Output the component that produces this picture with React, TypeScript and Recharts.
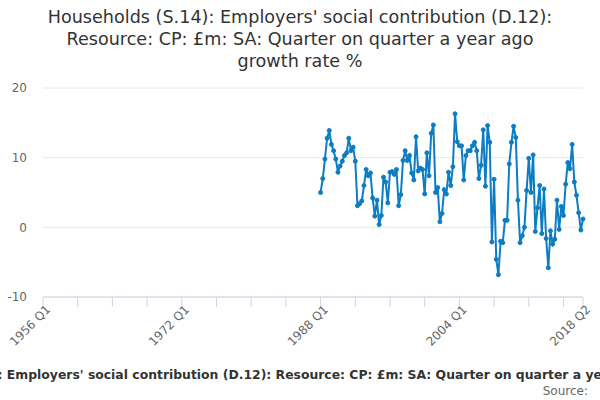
import React from 'react';
import { LineChart, Line, XAxis, YAxis, CartesianGrid } from 'recharts';

const quarters: string[] = [];
for (let y = 1956; y <= 2018; y++) {
  for (let q = 1; q <= 4; q++) {
    if (y === 2018 && q > 2) break;
    quarters.push(`${y} Q${q}`);
  }
}

const firstDataQuarter = '1988 Q1';

const growthValues: number[] = [
  5.0, 7.0, 9.8, 12.8, 13.9, 11.9, 11.0, 9.8, 7.9, 8.8,
  9.5, 10.3, 10.7, 12.8, 11.0, 11.5, 9.5, 3.1, 3.4, 3.8,
  6.0, 8.3, 7.4, 7.8, 4.2, 1.6, 3.9, 0.4, 1.7, 7.2,
  6.5, 3.5, 7.9, 8.0, 7.6, 8.3, 3.1, 4.7, 9.6, 11.0,
  9.6, 10.3, 7.8, 6.8, 13.0, 8.1, 8.5, 8.3, 4.8, 10.7,
  7.4, 13.5, 14.7, 5.0, 5.7, 0.8, 2.0, 5.4, 4.8, 7.9,
  6.0, 8.7, 16.3, 12.3, 11.7, 11.7, 6.8, 10.3, 11.0, 11.0,
  11.7, 12.2, 11.0, 7.0, 8.9, 14.0, 5.9, 14.6, 12.2, -2.1,
  6.9, -4.6, -6.8, -2.0, -2.2, 1.0, 1.0, 9.1, 12.2, 14.5,
  12.9, 3.9, -2.2, -1.2, 0.0, 5.3, 9.9, 5.0, 10.4, -0.6,
  2.8, 6.0, -0.9, 5.5, -1.6, -5.8, -0.5, -2.4, -1.7, 3.9,
  -0.3, 3.0, 1.7, 6.2, 9.3, 8.4, 11.9, 6.5, 4.6, 2.1,
  -0.4, 1.2,
];

const yTicks = [-10, 0, 10, 20];
const tickLabels = ['1956 Q1', '1972 Q1', '1988 Q1', '2004 Q1', '2018 Q2'];
const tickMarks = quarters.filter((q, i) => i % 16 === 0 || i === quarters.length - 1);

const titleLines = [
  "Households (S.14): Employers' social contribution (D.12):",
  'Resource: CP: £m: SA: Quarter on quarter a year ago',
  'growth rate %',
];
const legendText =
  "Households (S.14): Employers' social contribution (D.12): Resource: CP: £m: SA: Quarter on quarter a year ago growth rate %";

const startIdx = quarters.indexOf(firstDataQuarter);
const data = quarters.map((q, i) => ({
  q,
  v: i >= startIdx && i - startIdx < growthValues.length ? growthValues[i - startIdx] : null,
}));

const FONT = '"DejaVu Sans", sans-serif';
const LINE = '#0c7dc4';

const XTick = (props: any) => {
  const { x, y, payload } = props;
  if (!tickLabels.includes(payload.value)) return <g />;
  const ax = x + 2;
  const ay = y - 5;
  return (
    <text
      x={ax}
      y={ay}
      transform={`rotate(-45 ${ax} ${ay})`}
      textAnchor="end"
      fontSize={12}
      fill="#666"
      fontFamily={FONT}
      dominantBaseline="hanging"
    >
      {payload.value}
    </text>
  );
};

export default function App() {
  return (
    <div
      style={{
        position: 'absolute',
        left: 0,
        top: 0,
        width: 600,
        height: 400,
        overflow: 'hidden',
        background: '#fff',
        fontFamily: FONT,
      }}
    >
      <svg width={600} height={80} style={{ position: 'absolute', left: 0, top: 0 }}>
        {titleLines.map((t, i) => (
          <text key={i} x={300} y={23 + i * 22} textAnchor="middle" fontSize={17.6} fill="#333" fontFamily={FONT}>
            {t}
          </text>
        ))}
      </svg>
      <div style={{ position: 'absolute', left: 0, top: 0 }}>
        <LineChart width={600} height={400} data={data} margin={{ top: 88, right: 17, bottom: 43, left: 0 }}>
          <CartesianGrid vertical={false} stroke="#e6e6e6" />
          <XAxis
            dataKey="q"
            ticks={tickMarks}
            interval={0}
            tick={<XTick />}
            tickSize={10}
            tickMargin={2}
            height={60}
            axisLine={{ stroke: '#ccd6eb' }}
            tickLine={{ stroke: '#ccd6eb' }}
          />
          <YAxis
            domain={[-10, 20]}
            ticks={yTicks}
            width={43}
            axisLine={false}
            tickLine={false}
            tickMargin={10}
            tick={{ fill: '#666', fontSize: 12, fontFamily: FONT }}
          />
          <Line
            type="linear"
            dataKey="v"
            stroke={LINE}
            strokeWidth={2}
            dot={{ r: 2, fill: LINE, stroke: LINE, strokeWidth: 1 }}
            connectNulls={false}
            isAnimationActive={false}
          />
        </LineChart>
      </div>
      <svg width={600} height={400} style={{ position: 'absolute', left: 0, top: 0, pointerEvents: 'none' }}>
        <text x={310} y={379} textAnchor="middle" fontSize={12.4} fontWeight="bold" fill="#333" fontFamily={FONT}>
          {legendText}
        </text>
        <text x={588} y={395} textAnchor="end" fontSize={12} fill="#666" fontFamily={FONT}>
          Source:
        </text>
      </svg>
    </div>
  );
}
